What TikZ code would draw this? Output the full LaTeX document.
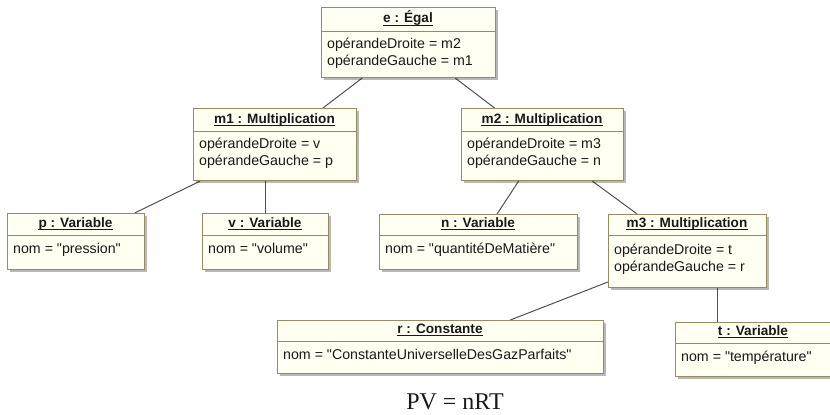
\documentclass[tikz,border=0pt]{standalone}
\usepackage{fontspec}
\setmainfont{Liberation Sans}[Ligatures=TeXOff]
\newfontfamily\eqfont{Liberation Serif}
\usetikzlibrary{calc,shadows,backgrounds}

\definecolor{objborder}{RGB}{150,140,96}
\definecolor{objfill}{RGB}{255,255,242}
\definecolor{linkgray}{RGB}{80,80,80}
\definecolor{textcol}{RGB}{25,25,25}

% straight double quote
\newcommand\dq{\symbol{34}}

\tikzset{
  objbox/.style={rectangle, draw=objborder, fill=objfill, line width=1.2pt, inner sep=0pt,
    drop shadow={shadow xshift=2.5pt, shadow yshift=-2.5pt, fill=black, opacity=0.28}},
  objsep/.style={draw=objborder, line width=1pt},
  objhead/.style={font=\fontsize{13.6}{16}\selectfont\bfseries, inner sep=0pt, text=textcol, anchor=base},
  objattr/.style={font=\fontsize{14.2}{17}\selectfont, inner sep=0pt, text=textcol, anchor=base west},
  uline/.style={draw=textcol, line width=1pt},
  link/.style={draw=linkgray, line width=1pt},
}

% object box: name, left, top, right, bottom, separator y, header
\newcommand\umlobject[7]{%
  \node[objbox, anchor=north west, minimum width={#4-#2}, minimum height={#5-#3}] (#1) at (#2,#3) {};
  \draw[objsep] (#2,#6) -- (#4,#6);
  \node[objhead] (#1-head) at ({(#2+#4)/2},{#6-8}) {#7};
  \draw[uline] ([yshift=-2pt]#1-head.base west) -- ([yshift=-2pt]#1-head.base east);
}
% attribute line: left of box, baseline y, text
\newcommand\umlattr[3]{%
  \node[objattr] at ({#1+6},#2) {#3};
}

\begin{document}
\begin{tikzpicture}[x=1pt,y=-1pt]
  \clip (0,0) rectangle (830,415);

  \umlobject{e}{321}{7}{495}{77}{31}{e : Égal}
  \umlattr{321}{48}{opérandeDroite = m2}
  \umlattr{321}{65.5}{opérandeGauche = m1}

  \umlobject{m1}{193}{108}{356}{180}{131}{m1 : Multiplication}
  \umlattr{193}{148}{opérandeDroite = v}
  \umlattr{193}{165.5}{opérandeGauche = p}

  \umlobject{m2}{461}{108}{623}{180}{131}{m2 : Multiplication}
  \umlattr{461}{148}{opérandeDroite = m3}
  \umlattr{461}{165.5}{opérandeGauche = n}

  \umlobject{p}{7}{213}{144}{269}{235}{p : Variable}
  \umlattr{7}{253}{nom = \dq pression\dq}

  \umlobject{v}{202}{213}{328}{269}{235}{v : Variable}
  \umlattr{202}{253}{nom = \dq volume\dq}

  \umlobject{n}{379}{214}{577}{269}{235}{n : Variable}
  \umlattr{379}{253.5}{nom = \dq quantitéDeMatière\dq}

  \umlobject{m3}{608}{214}{766}{287}{235}{m3 : Multiplication}
  \umlattr{608}{254}{opérandeDroite = t}
  \umlattr{608}{271.5}{opérandeGauche = r}

  \umlobject{r}{277}{320}{603}{373}{341}{r : Constante}
  \umlattr{277}{359}{nom = \dq ConstanteUniverselleDesGazParfaits\dq}

  \umlobject{t}{675}{322}{831}{376}{343}{t : Variable}
  \umlattr{675}{361}{nom = \dq température\dq}

  \node[font=\eqfont\fontsize{24}{28}\selectfont, text=textcol, anchor=base, inner sep=0pt] (eq) at (455,409) {PV = nRT};

  \coordinate (tlink) at (717,300);
  \begin{scope}[on background layer]
    \draw[link] (e) -- (m1);
    \draw[link] (e) -- (m2);
    \draw[link] (m1) -- (p);
    \draw[link] (v.north) -- (v.north |- m1.south);
    \draw[link] (m2) -- (n);
    \draw[link] (m2) -- (m3);
    \draw[link] (m3) -- (r);
    \draw[link] (m3.south -| tlink) -- (t.north -| tlink);
  \end{scope}
\end{tikzpicture}
\end{document}
